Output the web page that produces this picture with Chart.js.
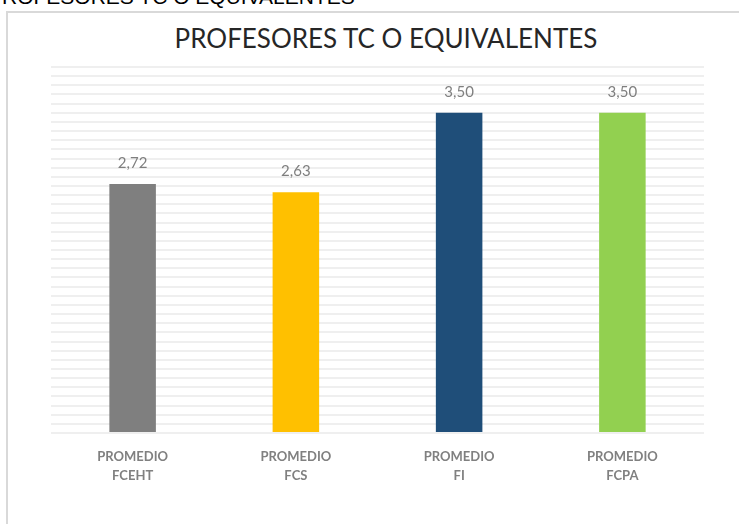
<!DOCTYPE html>
<html>
<head>
<meta charset="utf-8">
<script src="https://cdn.jsdelivr.net/npm/chart.js@4.4.1/dist/chart.umd.min.js"></script>
<style>
  html, body { margin: 0; padding: 0; background: #fff; width: 739px; height: 524px; overflow: hidden; }
  #wrap { position: relative; width: 739px; height: 524px; }
  #cut { position: absolute; left: -12px; top: -15px; font-family: "Liberation Sans", Arial, sans-serif; font-size: 21px; color: #000; white-space: nowrap; }
  #frame { position: absolute; left: 6px; top: 11px; width: 800px; height: 600px; border: 2px solid #d9d9d9; box-sizing: border-box; }
  #title { position: absolute; left: 386px; top: 22px; transform: translateX(-50%); font-family: Lato, "Open Sans", sans-serif; font-weight: 400; font-size: 26px; color: #262626; white-space: nowrap; }
  canvas { position: absolute; left: 0; top: 0; }
</style>
</head>
<body>
<div id="wrap">
  <div id="cut">PROFESORES TC O EQUIVALENTES</div>
  <div id="frame"></div>
  <div id="title">PROFESORES TC O EQUIVALENTES</div>
  <canvas id="c" width="739" height="524"></canvas>
</div>
<script>
const categories = [["PROMEDIO", "FCEHT"], ["PROMEDIO", "FCS"], ["PROMEDIO", "FI"], ["PROMEDIO", "FCPA"]];
const values = [2.72, 2.63, 3.50, 3.50];
const barColors = ["#7f7f7f", "#ffc000", "#1f4e79", "#92d050"];

const valueLabels = {
  id: 'valueLabels',
  afterDatasetsDraw(chart) {
    const ctx = chart.ctx;
    const meta = chart.getDatasetMeta(0);
    ctx.save();
    ctx.font = '15px Lato, "Open Sans", sans-serif';
    ctx.fillStyle = '#7f7f7f';
    ctx.textAlign = 'center';
    ctx.textBaseline = 'alphabetic';
    meta.data.forEach((bar, i) => {
      const v = chart.data.datasets[0].data[i];
      ctx.fillText(v.toFixed(2).replace('.', ','), bar.x, bar.y - 16);
    });
    ctx.restore();
  }
};

new Chart(document.getElementById('c'), {
  type: 'bar',
  data: {
    labels: categories,
    datasets: [{
      data: values,
      backgroundColor: barColors,
      borderWidth: 0,
      barPercentage: 0.57,
      categoryPercentage: 0.5
    }]
  },
  options: {
    responsive: false,
    animation: false,
    layout: { padding: { left: 51, right: 35, top: 67, bottom: 0 } },
    plugins: { legend: { display: false }, title: { display: false }, tooltip: { enabled: false } },
    scales: {
      x: {
        grid: { display: false },
        border: { display: false },
        ticks: {
          color: '#808080',
          font: { family: 'Lato, "Open Sans", sans-serif', size: 13, weight: 'bold', lineHeight: 1.5 },
          padding: 6,
          maxRotation: 0
        },
        afterFit(scale) { scale.height = 91; }
      },
      y: {
        min: 0,
        max: 4,
        ticks: { display: false, stepSize: 0.1 },
        grid: { color: '#efefef', lineWidth: 2, drawTicks: false },
        border: { display: false },
        afterFit(scale) { scale.width = 0; }
      }
    }
  },
  plugins: [valueLabels]
});
</script>
</body>
</html>
